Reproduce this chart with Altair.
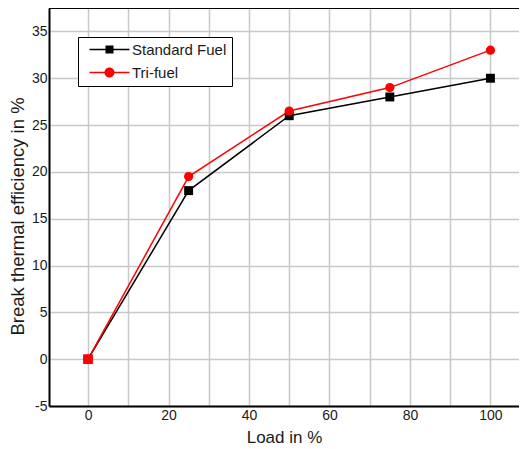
import altair as alt
import pandas as pd

load = [0, 25, 50, 75, 100]
standard = [0, 18, 26, 28, 30]
trifuel = [0, 19.5, 26.5, 29, 33]
series_names = ["Standard Fuel", "Tri-fuel"]
x_grid = [0, 10, 20, 30, 40, 50, 60, 70, 80, 90, 100]
y_grid = [-5, -2.5, 0, 2.5, 5, 7.5, 10, 12.5, 15, 17.5, 20, 22.5, 25, 27.5, 30, 32.5, 35, 37.5]

rows = []
for i, l in enumerate(load):
    rows.append({"load": l, "eff": standard[i], "series": series_names[0]})
for i, l in enumerate(load):
    rows.append({"load": l, "eff": trifuel[i], "series": series_names[1]})
df = pd.DataFrame(rows)

FONT = "Liberation Sans"
TXT = "#1a1a1a"

# legend glyphs: a thin bar (line) plus marker, in symbol units (1 unit = 5px)
sq_path = "M-0.2,-0.15L7.8,-0.15L7.8,0.15L-0.2,0.15ZM3,-0.8L4.6,-0.8L4.6,0.8L3,0.8Z"
ci_path = "M-0.2,-0.15L7.8,-0.15L7.8,0.15L-0.2,0.15ZM4.8,0A1,1,0,1,1,2.8,0A1,1,0,1,1,4.8,0Z"

xscale = alt.Scale(domain=[-9.7, 107.1], nice=False, zero=False)
yscale = alt.Scale(domain=[-5, 37.5], nice=False, zero=False)

xaxis = alt.Axis(values=x_grid, labelExpr="datum.value % 20 == 0 ? '' + datum.value : ''",
                 title="Load in %", grid=True, gridColor="#c8c8c8", gridWidth=1.5,
                 ticks=False, domainColor="black", domainWidth=2, labelFont=FONT,
                 labelFontSize=14, labelColor=TXT, labelPadding=2, titleFont=FONT,
                 titleFontSize=17, titleFontWeight="normal", titleColor=TXT, titlePadding=7)
yaxis = alt.Axis(values=y_grid, labelExpr="datum.value % 5 == 0 ? '' + datum.value : ''",
                 title="Break thermal efficiency in %", grid=True, gridColor="#c8c8c8",
                 gridWidth=1.5, ticks=False, domainColor="black", domainWidth=2,
                 labelFont=FONT, labelFontSize=14, labelColor=TXT, labelPadding=2,
                 titleFont=FONT, titleFontSize=18.5, titleFontWeight="normal",
                 titleColor=TXT, titlePadding=4, titleY=208)

leg = alt.Legend(
    title=None, orient="none", legendX=29, legendY=29,
    symbolSize=100, labelFont=FONT, labelFontSize=15, labelColor=TXT,
    labelOffset=34, padding=5, rowPadding=7,
    strokeColor="black", fillColor="white", symbolStrokeWidth=0, symbolOpacity=1,
)

base = alt.Chart(df)


def series_line(name, col):
    return base.transform_filter(alt.datum.series == name).mark_line(
        strokeWidth=1.5, color=col
    ).encode(
        x=alt.X("load:Q", scale=xscale, axis=xaxis),
        y=alt.Y("eff:Q", scale=yscale, axis=yaxis),
    )


line_std = series_line("Standard Fuel", "black")
line_tri = series_line("Tri-fuel", "red")

legend_layer = base.mark_point(filled=True, opacity=0, size=1).encode(
    x="load:Q", y="eff:Q",
    color=alt.Color("series:N", scale=alt.Scale(domain=series_names, range=["black", "red"]), legend=leg),
    shape=alt.Shape("series:N", scale=alt.Scale(domain=series_names, range=[sq_path, ci_path]), legend=leg),
)

sq_pts = base.transform_filter(alt.datum.series == "Standard Fuel").mark_point(
    shape="square", filled=True, size=80, opacity=1, color="black"
).encode(x="load:Q", y="eff:Q")

ci_pts = base.transform_filter(alt.datum.series == "Tri-fuel").mark_point(
    shape="circle", filled=True, size=85, opacity=1, color="red"
).encode(x="load:Q", y="eff:Q")

origin = base.transform_filter((alt.datum.series == "Tri-fuel") & (alt.datum.load == 0)).mark_point(
    shape="square", filled=True, size=90, opacity=1, color="red"
).encode(x="load:Q", y="eff:Q")

top_line = alt.Chart(pd.DataFrame({"a": [0]})).mark_rule(color="black", strokeWidth=2).encode(
    x=alt.value(0), x2=alt.value(470), y=alt.value(0)
)

chart = alt.layer(line_std, line_tri, sq_pts, ci_pts, origin, legend_layer, top_line).properties(
    width=470, height=398, autosize="none",
    padding={"left": 41, "top": 0, "right": 0, "bottom": 41},
).configure_view(stroke=None).configure(background="white")

chart.save("out.html", embed_options={"renderer": "svg", "actions": False})
